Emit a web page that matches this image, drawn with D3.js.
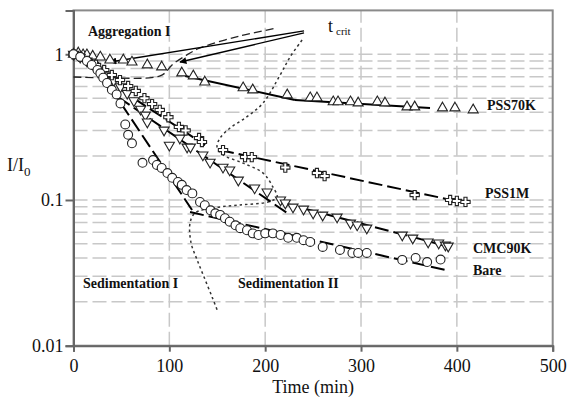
<!DOCTYPE html>
<html>
<head>
<meta charset="utf-8">
<script src="https://cdn.jsdelivr.net/npm/d3@7"></script>
<style>
  body { margin: 0; background: #fff; }
  text { font-family: "Liberation Serif", "Times New Roman", serif; }
</style>
</head>
<body>
<div id="chart"></div>
<script>
// data: [time (min), I/I0]
const pss70k = [[0,1.0],[5,1.02],[10,0.99],[14,0.99],[20,0.97],[28,0.957],[38,0.913],[52,0.913],[61,0.883],[77,0.845],[92,0.818],[113,0.744],[125,0.71],[137,0.645],[177,0.588],[187,0.569],[223,0.526],[247,0.502],[254,0.502],[271,0.471],[276,0.471],[289,0.471],[297,0.463],[317,0.471],[325,0.463],[348,0.435],[356,0.435],[385,0.428],[398,0.428],[417,0.415]];
const pss1m = [[0,1.0],[7,0.96],[15,0.9],[23.5,0.845],[32,0.78],[40,0.72],[48.5,0.665],[57,0.605],[65,0.56],[74,0.5],[82,0.455],[90,0.415],[99,0.37],[110,0.317],[117,0.3],[131,0.266],[134,0.25],[156,0.22],[179,0.197],[186,0.197],[221,0.167],[254,0.153],[262,0.146],[356,0.108],[393,0.1],[400,0.0985],[409,0.097]];
const cmc90k = [[0,1.0],[7,0.955],[14,0.9],[21,0.84],[28,0.78],[35,0.72],[42,0.66],[49,0.6],[56,0.54],[63,0.48],[70,0.42],[75,0.383],[77,0.343],[94.5,0.302],[100,0.238],[111,0.266],[118.5,0.231],[122,0.231],[135,0.204],[142.5,0.182],[156,0.168],[163,0.161],[172,0.137],[189,0.121],[202,0.1135],[216,0.1],[221,0.0954],[229,0.0895],[240,0.0867],[250,0.0814],[260,0.0788],[275,0.0764],[289,0.0695],[296,0.0674],[306,0.0642],[343,0.0575],[354,0.0548],[370,0.0515],[381,0.0507],[388,0.0491],[391,0.0483]];
const bare = [[0,1.0],[7,0.96],[14,0.9],[19,0.845],[25,0.78],[28,0.74],[31,0.69],[35,0.635],[40,0.57],[45,0.53],[49,0.46],[54,0.33],[57,0.28],[61,0.245],[72,0.18],[83,0.188],[87,0.174],[92,0.166],[98,0.153],[103,0.142],[109,0.133],[113,0.127],[118,0.117],[124,0.111],[132,0.097],[137,0.092],[143,0.085],[148,0.081],[153,0.079],[158,0.075],[163,0.071],[169,0.067],[174,0.064],[181,0.062],[187,0.059],[193,0.0575],[200,0.059],[208,0.059],[216,0.0575],[224,0.055],[233,0.055],[240,0.053],[247,0.0515],[260,0.0476],[278,0.0454],[291,0.0433],[297,0.0433],[306,0.0433],[343,0.0388],[357,0.04],[369,0.0375],[383,0.039]];

// fitted lines, [start, end]
const fits = [
  { pts: [[116.4,0.71],[231,0.486]], solid: true },
  { pts: [[231,0.486],[372,0.428]], solid: true },
  { pts: [[46.5,0.587],[137.3,0.238]] },
  { pts: [[152.9,0.22],[403.4,0.097]] },
  { pts: [[46.5,0.509],[226,0.0788]] },
  { pts: [[218.7,0.0954],[393,0.0476]] },
  { pts: [[27.7,0.756],[123.7,0.0854]] },
  { pts: [[121.6,0.0827],[387.8,0.0331]] }
];
const aggCurve = [[0,0.698],[78.8,0.688],[90.3,0.71],[95.5,0.744],[102.8,0.845],[116.4,0.973],[132,1.104],[173.8,1.335],[212.4,1.515]];
const sedCurve = [[238.5,1.253],[226,0.958],[215.6,0.721],[197.8,0.463],[179,0.365],[163.4,0.312],[152.9,0.266],[149.8,0.231],[156,0.204],[177,0.179],[197.8,0.153],[208,0.1228],[212.4,0.1048],[203,0.0969],[173.8,0.0924],[145.6,0.0881],[126.8,0.0814],[121.6,0.0695],[122.7,0.0507],[129,0.0388],[136.2,0.0296],[144.6,0.0216],[150.8,0.017]];
const tcritFrom = [236.4, 1.445];
const tcritTo = [[38.1,0.885],[111.2,0.885]];

const xTicks = [0, 100, 200, 300, 400, 500];
const yTicks = [0.01, 0.1, 1];
const yGrid = [0.02,0.03,0.04,0.05,0.06,0.07,0.08,0.09,0.1,0.2,0.3,0.4,0.5,0.6,0.7,0.8,0.9,1];

const width = 569, height = 404;
const x = d3.scaleLinear().domain([0, 500]).range([73.5, 552.7]);
const y = d3.scaleLog().domain([0.01, 2]).range([345.7, 10.4]);

const svg = d3.select('#chart').append('svg')
  .attr('width', width)
  .attr('height', height);

svg.append('defs').append('marker')
  .attr('id', 'arrow')
  .attr('viewBox', '0 0 10 10')
  .attr('refX', 9).attr('refY', 5)
  .attr('markerWidth', 9).attr('markerHeight', 7)
  .attr('markerUnits', 'userSpaceOnUse')
  .attr('orient', 'auto')
  .append('path').attr('d', 'M0,0L10,5L0,10Z').attr('fill', '#000');

// grid
svg.append('g').selectAll('line').data(yGrid).join('line')
  .attr('x1', x(0)).attr('x2', x(500))
  .attr('y1', d => y(d)).attr('y2', d => y(d))
  .attr('stroke', '#c8c8c8').attr('stroke-width', 1.5)
  .attr('stroke-dasharray', '14,5');
svg.append('g').selectAll('line').data(xTicks.slice(1, -1)).join('line')
  .attr('x1', d => x(d)).attr('x2', d => x(d))
  .attr('y1', y(0.01)).attr('y2', y(2))
  .attr('stroke', '#c8c8c8').attr('stroke-width', 1.5)
  .attr('stroke-dasharray', '14,5');

// frame
svg.append('rect')
  .attr('x', x(0)).attr('y', y(2))
  .attr('width', x(500) - x(0)).attr('height', y(0.01) - y(2))
  .attr('fill', 'none').attr('stroke', '#8a8a8a').attr('stroke-width', 2);

// axes
const xAxis = svg.append('g')
  .attr('transform', `translate(0,${y(0.01)})`)
  .call(d3.axisBottom(x).tickValues(xTicks).tickSize(6).tickFormat(d3.format('d')));
const yAxis = svg.append('g')
  .attr('transform', `translate(${x(0)},0)`)
  .call(d3.axisLeft(y).tickValues(yTicks).tickSize(8).tickFormat(d => d));
[xAxis, yAxis].forEach(a => {
  a.attr('font-family', '"Liberation Serif", serif').attr('font-size', 18);
  a.select('.domain').attr('stroke', '#666').attr('stroke-width', 2);
  a.selectAll('.tick line').attr('stroke', '#666').attr('stroke-width', 2);
  a.selectAll('.tick text').attr('fill', '#111');
});
xAxis.selectAll('.tick text').attr('dy', '0.95em');
yAxis.selectAll('.tick text').attr('x', -10);

const line = d3.line().x(d => x(d[0])).y(d => y(d[1])).curve(d3.curveCatmullRom);

// boundary curves
svg.append('path')
  .attr('fill', 'none').attr('stroke', '#222').attr('stroke-width', 1.3)
  .attr('stroke-dasharray', '8,4')
  .attr('d', line(aggCurve));
svg.append('path')
  .attr('fill', 'none').attr('stroke', '#333').attr('stroke-width', 1.5)
  .attr('stroke-dasharray', '2.5,3')
  .attr('d', line(sedCurve));

// fit lines
svg.append('g').selectAll('path').data(fits).join('path')
  .attr('fill', 'none').attr('stroke', '#000').attr('stroke-width', 2)
  .attr('stroke-dasharray', d => d.solid ? null : '14,5')
  .attr('d', d => d3.line().x(p => x(p[0])).y(p => y(p[1]))(d.pts));

// t crit arrows
svg.append('g').selectAll('line').data(tcritTo).join('line')
  .attr('x1', x(tcritFrom[0]) + 4).attr('y1', (d, i) => y(tcritFrom[1]) + i * 2)
  .attr('x2', d => x(d[0])).attr('y2', d => y(d[1]))
  .attr('stroke', '#000').attr('stroke-width', 1.3)
  .attr('marker-end', 'url(#arrow)');

// markers
const drawSeries = (data, type, size, rot) => {
  svg.append('g').selectAll('path').data(data).join('path')
    .attr('transform', d => `translate(${x(d[0])},${y(d[1])})` + (rot ? ' rotate(180)' : ''))
    .attr('d', d3.symbol().type(type).size(size))
    .attr('fill', '#fff').attr('stroke', '#222').attr('stroke-width', 1.1);
};
drawSeries(pss70k, d3.symbolTriangle, 44, false);
drawSeries(cmc90k, d3.symbolTriangle, 44, true);
drawSeries(pss1m, d3.symbolCross, 48, false);
drawSeries(bare, d3.symbolCircle, 62, false);

// labels
const label = (txt, lx, ly, size, bold) => svg.append('text')
  .attr('x', lx).attr('y', ly).attr('font-size', size)
  .attr('font-weight', bold ? 'bold' : 'normal').attr('fill', '#111').text(txt);
label('Aggregation I', 88, 36, 14, true);
label('PSS70K', 487, 110, 14, true);
label('PSS1M', 485, 198, 14, true);
label('CMC90K', 473, 253, 14, true);
label('Bare', 473, 275, 14, true);
label('Sedimentation I', 83, 288, 14, true);
label('Sedimentation II', 238, 288, 14, true);

const tc = svg.append('text').attr('x', 328).attr('y', 32).attr('font-size', 18).attr('fill', '#111');
tc.append('tspan').text('t');
tc.append('tspan').attr('dx', 3).attr('dy', 3).attr('font-size', 11).text('crit');

const yl = svg.append('text').attr('x', 7).attr('y', 171).attr('font-size', 18).attr('fill', '#111');
yl.append('tspan').text('I/I');
yl.append('tspan').attr('dy', 5).attr('font-size', 13).text('0');

svg.append('text').attr('x', (x(0) + x(500)) / 2).attr('y', 393)
  .attr('text-anchor', 'middle').attr('font-size', 18).attr('fill', '#111')
  .text('Time (min)');
</script>
</body>
</html>
